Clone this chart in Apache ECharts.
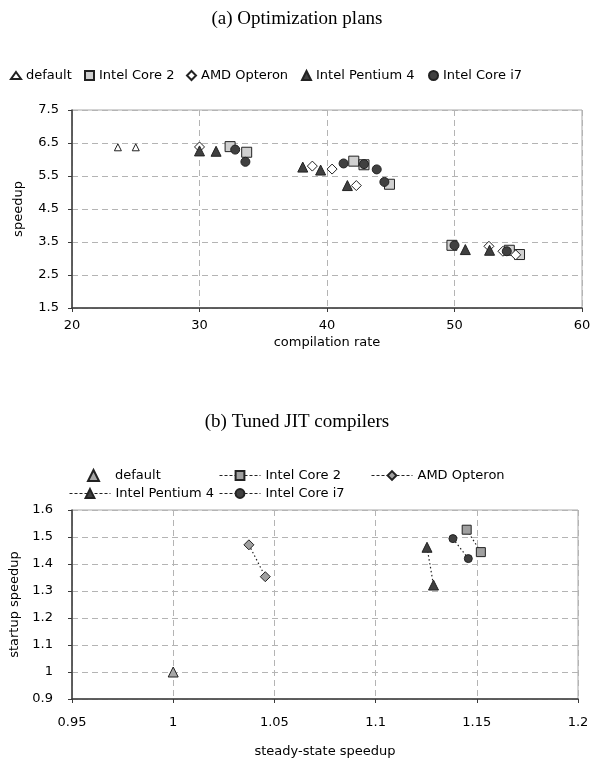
<!DOCTYPE html>
<html lang="en">
<head>
    <meta charset="UTF-8">
    <title>JIT speedup</title>
    <script src="https://cdn.jsdelivr.net/npm/echarts@6/dist/echarts.min.js"></script>
    <style>
        body { margin: 0; background: #fff; }
        #top { width: 594px; height: 400px; }
        #bottom { width: 594px; height: 364px; }
    </style>
</head>
<body>
<div id="top"></div>
<div id="bottom"></div>
<script type="text/javascript">
    // (a) compilation rate vs speedup
    var planNames = ['default', 'Intel Core 2', 'AMD Opteron', 'Intel Pentium 4', 'Intel Core i7'];
    var planDefault = [[23.6, 6.37], [25.0, 6.37]];
    var planCore2 = [[32.4, 6.39], [33.7, 6.22], [42.1, 5.95], [42.9, 5.84], [44.9, 5.25], [49.8, 3.40], [54.3, 3.25], [55.1, 3.12]];
    var planOpteron = [[30.0, 6.38], [38.85, 5.80], [40.4, 5.71], [42.3, 5.21], [52.7, 3.37], [53.8, 3.22], [54.8, 3.11]];
    var planP4 = [[30.0, 6.26], [31.3, 6.25], [38.1, 5.77], [39.5, 5.68], [41.6, 5.21], [50.85, 3.27], [52.75, 3.25]];
    var planI7 = [[32.8, 6.30], [33.6, 5.93], [41.3, 5.88], [42.9, 5.86], [43.9, 5.70], [44.5, 5.32], [50.0, 3.40], [54.1, 3.22]];

    // (b) steady-state vs startup speedup
    var tunedDefault = [[1.0, 1.0]];
    var tunedCore2 = [[1.145, 1.527], [1.152, 1.444]];
    var tunedOpteron = [[1.0374, 1.471], [1.0455, 1.353]];
    var tunedP4 = [[1.1254, 1.462], [1.1286, 1.322]];
    var tunedI7 = [[1.1382, 1.494], [1.1458, 1.42]];

    var font = 'DejaVu Sans';
    var gridLine = {show: true, lineStyle: {color: '#b4b4b4', type: [6, 4], width: 1}};
    var axisLine = {show: true, onZero: false, lineStyle: {color: '#3a3a3a', width: 1.5}};
    var tick = {show: true, inside: false, length: 4, lineStyle: {color: '#3a3a3a'}};

    function legendAt(name, left, top, w, h, textPad) {
        return {
            data: [name], left: left, top: top, itemWidth: w, itemHeight: h,
            padding: 0, selectedMode: false,
            lineStyle: {type: [3, 2], width: 1},
            textStyle: {fontFamily: font, fontSize: 13, color: '#000', padding: [0, 0, 0, textPad || 0]}
        };
    }

    //----------- top chart
    var topChart = echarts.init(document.getElementById('top'));
    function planSeries(name, data, symbol, size, fill) {
        return {
            name: name, type: 'scatter', data: data, symbol: symbol, symbolSize: size,
            itemStyle: {color: fill, borderColor: '#222', borderWidth: 1, opacity: 1},
            emphasis: {disabled: true}
        };
    }
    topChart.setOption({
        animation: false,
        title: {
            text: '(a) Optimization plans', left: 'center', top: 10, padding: 0,
            textStyle: {fontFamily: 'Liberation Serif', fontSize: 19, fontWeight: 'normal', color: '#000'}
        },
        legend: [
            legendAt(planNames[0], 10, 69, 10, 7),
            legendAt(planNames[1], 84, 69, 9, 9),
            legendAt(planNames[2], 186, 69, 9, 9),
            legendAt(planNames[3], 301, 69, 9, 9),
            legendAt(planNames[4], 428, 69, 9, 9)
        ],
        grid: {
            left: 72, top: 110, width: 510, height: 198, outerBoundsMode: 'none',
            show: true, borderColor: '#a8a8a8', borderWidth: 1
        },
        xAxis: {
            type: 'value', min: 20, max: 60, interval: 10,
            name: 'compilation rate', nameLocation: 'middle', nameGap: 28,
            nameTextStyle: {fontFamily: font, fontSize: 13, color: '#000'},
            axisLine: axisLine, axisTick: tick, splitLine: gridLine,
            axisLabel: {fontFamily: font, fontSize: 13, color: '#000', margin: 11}
        },
        yAxis: {
            type: 'value', min: 1.5, max: 7.5, interval: 1,
            name: 'speedup', nameLocation: 'middle', nameGap: 47,
            nameTextStyle: {fontFamily: font, fontSize: 13, color: '#000'},
            axisLine: axisLine, axisTick: tick, splitLine: gridLine,
            axisLabel: {fontFamily: font, fontSize: 13, color: '#000', margin: 13}
        },
        series: [
            planSeries(planNames[0], planDefault, 'triangle', 7, '#ffffff'),
            planSeries(planNames[1], planCore2, 'rect', 10, '#d0d0d0'),
            planSeries(planNames[2], planOpteron, 'diamond', 10, '#ffffff'),
            planSeries(planNames[3], planP4, 'triangle', 10, '#404040'),
            planSeries(planNames[4], planI7, 'circle', 9, '#404040')
        ]
    });

    //----------- bottom chart
    var bottomChart = echarts.init(document.getElementById('bottom'));
    function tunedSeries(name, data, symbol, size, fill, withLine) {
        return {
            name: name, type: withLine ? 'line' : 'scatter', data: data,
            symbol: symbol, symbolSize: size, showSymbol: true,
            itemStyle: {color: fill, borderColor: '#222', borderWidth: 1, opacity: 1},
            lineStyle: {color: '#222', width: 1.2, type: [1.5, 2.5]},
            emphasis: {disabled: true}
        };
    }
    bottomChart.setOption({
        animation: false,
        title: {
            text: '(b) Tuned JIT compilers', left: 'center', top: 13, padding: 0,
            textStyle: {fontFamily: 'Liberation Serif', fontSize: 19, fontWeight: 'normal', color: '#000'}
        },
        legend: [
            legendAt(planNames[0], 87, 69, 11, 11, 11),
            legendAt(planNames[1], 219, 69, 41, 11),
            legendAt(planNames[2], 371, 69, 41, 11),
            legendAt(planNames[3], 69, 87, 41, 11),
            legendAt(planNames[4], 219, 87, 41, 11)
        ],
        grid: {
            left: 72, top: 110, width: 506, height: 189, outerBoundsMode: 'none',
            show: true, borderColor: '#a8a8a8', borderWidth: 1
        },
        xAxis: {
            type: 'value', min: 0.95, max: 1.2, interval: 0.05,
            name: 'steady-state speedup', nameLocation: 'middle', nameGap: 46,
            nameTextStyle: {fontFamily: font, fontSize: 13, color: '#000'},
            axisLine: axisLine, axisTick: tick, splitLine: gridLine,
            axisLabel: {fontFamily: font, fontSize: 13, color: '#000', margin: 17}
        },
        yAxis: {
            type: 'value', min: 0.9, max: 1.6, interval: 0.1,
            name: 'startup speedup', nameLocation: 'middle', nameGap: 47,
            nameTextStyle: {fontFamily: font, fontSize: 13, color: '#000'},
            axisLine: axisLine, axisTick: tick, splitLine: gridLine,
            axisLabel: {fontFamily: font, fontSize: 13, color: '#000', margin: 19}
        },
        series: [
            tunedSeries(planNames[0], tunedDefault, 'triangle', 10, '#a6a6a6', false),
            tunedSeries(planNames[1], tunedCore2, 'rect', 9, '#a0a0a0', true),
            tunedSeries(planNames[2], tunedOpteron, 'diamond', 10, '#a0a0a0', true),
            tunedSeries(planNames[3], tunedP4, 'triangle', 10, '#404040', true),
            tunedSeries(planNames[4], tunedI7, 'circle', 8, '#404040', true)
        ]
    });
</script>
</body>
</html>
